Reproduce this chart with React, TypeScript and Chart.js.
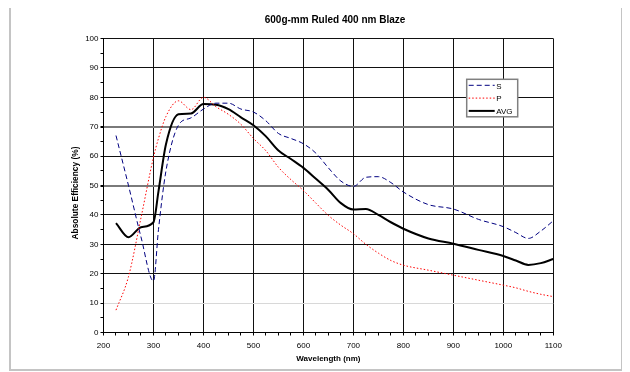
import React, { useEffect, useRef } from "react";
import { Chart, registerables } from "chart.js";

Chart.register(...registerables);

const TITLE = "600g-mm Ruled 400 nm Blaze";
const X_TITLE = "Wavelength (nm)";
const Y_TITLE = "Absolute Efficiency (%)";

const wavelengths = [
  225, 250, 275, 300, 310, 325, 350, 375, 400, 425, 450, 475, 500, 525, 550, 575,
  600, 625, 650, 675, 700, 725, 750, 775, 800, 850, 900, 950, 1000, 1025, 1050, 1075, 1100,
];

const sValues = [
  67, 50, 32.5, 17.5, 35, 55, 70.5, 73, 76, 78, 78, 76, 75, 72, 67.7, 66,
  64.2, 61, 56, 51.5, 49.7, 52.8, 53, 51, 47.8, 43.5, 42, 38.5, 36, 34, 32, 34.5, 38,
];

const pValues = [
  7.6, 19, 39, 59.6, 66, 73.5, 78.8, 75.8, 80, 76.8, 74.2, 70.8, 66, 61.8, 56.2, 52,
  48.3, 44, 39.8, 36.5, 33.6, 30, 27, 24.5, 22.9, 21.2, 19.5, 17.8, 16.1, 15.2, 14, 13, 12.2,
];

const avgValues = [
  37.2, 32.4, 35.8, 37.5, 48, 64, 74.2, 74.5, 77.7, 77.5, 76, 73.2, 70.5, 66.7, 61.9, 59,
  56, 52.3, 48.5, 44, 41.8, 42, 40, 37.5, 35.3, 32, 30.2, 28.1, 26, 24.5, 23, 23.6, 25,
];

const seriesNames = ["S", "P", "AVG"];

const FONT = "'Liberation Sans', Arial, Helvetica, sans-serif";

const toPoints = (ys: number[]) => wavelengths.map((x, i) => ({ x, y: ys[i] }));

const textPlugin = {
  id: "customTexts",
  afterDraw(chart: any) {
    const { ctx, chartArea } = chart;
    ctx.save();
    ctx.fillStyle = "#000";
    ctx.textAlign = "center";
    ctx.textBaseline = "middle";
    ctx.font = `bold 10px ${FONT}`;
    ctx.fillText(TITLE, (chartArea.left + chartArea.right) / 2 + 6.6, 16);
    ctx.translate(chartArea.left - 27.5, (chartArea.top + chartArea.bottom) / 2 + 7.5);
    ctx.rotate(-Math.PI / 2);
    ctx.font = `bold 8.4px ${FONT}`;
    ctx.fillText(Y_TITLE, 0, 0);
    ctx.restore();
  },
};

const legendPlugin = {
  id: "boxLegend",
  afterDraw(chart: any) {
    const { ctx, chartArea } = chart;
    const left = chartArea.right - 86.6;
    const top = chartArea.top + 40.8;
    const w = 51;
    const h = 37.5;
    ctx.save();
    ctx.fillStyle = "#fff";
    ctx.fillRect(left, top, w, h);
    ctx.strokeStyle = "#808080";
    ctx.lineWidth = 1.5;
    ctx.strokeRect(left, top, w, h);
    ctx.font = `8px ${FONT}`;
    ctx.textBaseline = "middle";
    ctx.textAlign = "left";
    chart.data.datasets.forEach((ds: any, i: number) => {
      const y = top + 6 + i * 12.8;
      ctx.strokeStyle = ds.borderColor;
      ctx.lineWidth = ds.borderWidth;
      ctx.setLineDash(ds.borderDash || []);
      ctx.beginPath();
      ctx.moveTo(left + 2, y);
      ctx.lineTo(left + 28, y);
      ctx.stroke();
      ctx.setLineDash([]);
      ctx.fillStyle = "#000";
      ctx.fillText(ds.label, left + 29.5, y + 1);
    });
    ctx.restore();
  },
};

const hGridColor = (v: number) => {
  if (v % 10 !== 0) return "transparent";
  if (v === 10) return "#d8d8d8";
  if (v === 50 || v === 70) return "#7a7a7a";
  return "#111";
};

export default function App() {
  const canvasRef = useRef<HTMLCanvasElement | null>(null);

  useEffect(() => {
    if (!canvasRef.current) return;
    const chart = new Chart(canvasRef.current, {
      type: "line",
      data: {
        datasets: [
          {
            label: seriesNames[0],
            data: toPoints(sValues),
            borderColor: "#000080",
            borderWidth: 1,
            borderDash: [5, 3],
            pointRadius: 0,
            cubicInterpolationMode: "monotone",
            fill: false,
          },
          {
            label: seriesNames[1],
            data: toPoints(pValues),
            borderColor: "#ff0000",
            borderWidth: 1,
            borderDash: [1.5, 2],
            pointRadius: 0,
            cubicInterpolationMode: "monotone",
            fill: false,
          },
          {
            label: seriesNames[2],
            data: toPoints(avgValues),
            borderColor: "#000000",
            borderWidth: 2,
            pointRadius: 0,
            cubicInterpolationMode: "monotone",
            fill: false,
          },
        ],
      },
      options: {
        animation: false,
        responsive: true,
        maintainAspectRatio: false,
        layout: { padding: { top: 34.5, right: 67.7, left: 50, bottom: 0 } },
        plugins: {
          legend: { display: false },
          title: { display: false },
          tooltip: { enabled: false },
        },
        scales: {
          x: {
            type: "linear",
            min: 200,
            max: 1100,
            afterFit: (scale: any) => {
              scale.height = 36.5;
            },
            ticks: {
              stepSize: 25,
              autoSkip: false,
              maxRotation: 0,
              padding: 5,
              color: "#000",
              font: { family: FONT, size: 8 },
              callback: (v: any) => (Number(v) % 100 === 0 ? String(v) : ""),
            },
            grid: {
              color: (ctx: any) => (ctx.tick && ctx.tick.value % 100 === 0 ? "#111" : "transparent"),
              tickColor: "#000",
              tickLength: 3,
              lineWidth: 1,
            },
            border: { color: "#000", width: 1 },
            title: {
              display: true,
              text: X_TITLE,
              color: "#000",
              font: { family: FONT, size: 8, weight: "bold" },
              padding: { top: 0, bottom: 5.5 },
            },
          },
          y: {
            min: 0,
            max: 100,
            afterFit: (scale: any) => {
              scale.width = 42.5;
            },
            ticks: {
              stepSize: 5,
              autoSkip: false,
              padding: 2,
              color: "#000",
              font: { family: FONT, size: 8 },
              callback: (v: any) => (Number(v) % 10 === 0 ? String(v) : ""),
            },
            grid: {
              color: (ctx: any) => (ctx.tick ? hGridColor(ctx.tick.value) : "transparent"),
              lineWidth: (ctx: any) =>
                ctx.tick && (ctx.tick.value === 50 || ctx.tick.value === 70) ? 2 : 1,
              tickColor: "#000",
              tickLength: 3,
            },
            border: { color: "#000", width: 1 },
            title: { display: false },
          },
        },
      },
      plugins: [textPlugin, legendPlugin],
    } as any);
    return () => chart.destroy();
  }, []);

  return (
    <div
      style={{
        width: 614,
        height: 369,
        marginTop: -6,
        marginLeft: 1,
        border: "2px solid #c4c4c4",
        boxSizing: "border-box",
        position: "relative",
        background: "#fff",
      }}
    >
      <canvas ref={canvasRef} style={{ display: "block", width: "100%", height: "100%" }} />
    </div>
  );
}
